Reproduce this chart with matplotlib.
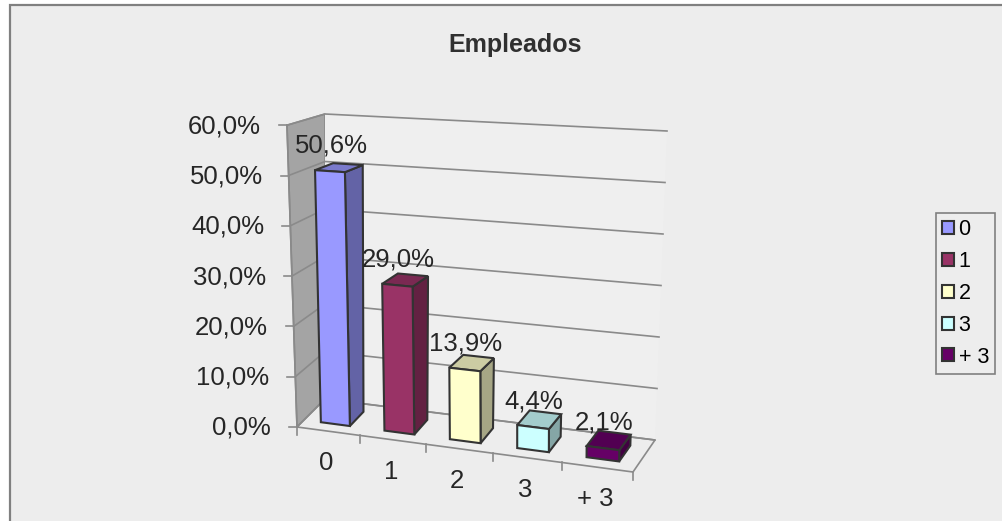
import numpy as np
import matplotlib.pyplot as plt
from matplotlib.patches import Polygon, Rectangle, Patch

# Datos del grafico
categorias = ["0", "1", "2", "3", "+ 3"]
porcentajes = [50.6, 29.0, 13.9, 4.4, 2.1]
etiquetas = ["50,6%", "29,0%", "13,9%", "4,4%", "2,1%"]
ticks_valor = [0, 10, 20, 30, 40, 50, 60]
ticks_texto = ["0,0%", "10,0%", "20,0%", "30,0%", "40,0%", "50,0%", "60,0%"]
colores = ["#9999FF", "#993366", "#FFFFCC", "#CCFFFF", "#660066"]

# Geometria de la caja 3D (pixeles de la figura)
PISO = {"FL": (297, 427), "FR": (633, 472), "BL": (325, 399), "BR": (655, 440)}
ESCALA = {"FL": 5.03, "FR": 5.45, "BL": 4.75, "BR": 5.15}   # px por punto porcentual
INCLINA = {"FL": -0.167, "FR": 0.03, "BL": 0.0, "BR": 0.2}  # desplazamiento x por punto
N = len(categorias)
VMAX = 60


def _u(x):
    # leve efecto de perspectiva a lo largo del eje de categorias
    t = x / N
    c = -0.07
    return t * (1 + c) / (1 + c * t)


def _bilin(q, u, d):
    fl, fr, bl, br = (np.asarray(q[k], dtype=float) for k in ("FL", "FR", "BL", "BR"))
    frente = fl + (fr - fl) * u
    fondo = bl + (br - bl) * u
    return frente + (fondo - frente) * d


def proyectar(x, d, v):
    """(posicion categoria, profundidad 0..1, valor %) -> pixel"""
    u = _u(x)
    px, py = _bilin(PISO, u, d)
    k = _bilin(ESCALA, u, d)
    s = _bilin(INCLINA, u, d)
    return (px + s * v, py - k * v)


fig = plt.figure(figsize=(10.03, 5.21), dpi=100)
fig.patch.set_facecolor("white")
ax = fig.add_axes([0, 0, 1, 1])
ax.set_xlim(0, 1003)
ax.set_ylim(521, 0)
ax.axis("off")

# fondo del area del grafico
ax.add_patch(Rectangle((10, 5), 1100, 600, facecolor="#EDEDED",
                       edgecolor="#808080", linewidth=1.6, zorder=0))

gris = "#8A8A8A"

# pared izquierda
pared_izq = [proyectar(0, 0, 0), proyectar(0, 0, VMAX),
             proyectar(0, 1, VMAX), proyectar(0, 1, 0)]
ax.add_patch(Polygon(pared_izq, closed=True, facecolor="#A4A4A4",
                     edgecolor=gris, linewidth=1.2, zorder=1))
# pared del fondo
pared_fondo = [proyectar(0, 1, 0), proyectar(0, 1, VMAX),
               proyectar(N, 1, VMAX), proyectar(N, 1, 0)]
ax.add_patch(Polygon(pared_fondo, closed=True, facecolor="#EFEFEF",
                     edgecolor="none", zorder=1))
# piso
piso = [proyectar(0, 0, 0), proyectar(N, 0, 0),
        proyectar(N, 1, 0), proyectar(0, 1, 0)]
ax.add_patch(Polygon(piso, closed=True, facecolor="#EDEDED",
                     edgecolor=gris, linewidth=1.2, zorder=1))

# lineas de division (pared izquierda y fondo)
for v in ticks_valor:
    pts = np.array([proyectar(0, 0, v), proyectar(0, 1, v), proyectar(N, 1, v)])
    ax.plot(pts[:, 0], pts[:, 1], color=gris, linewidth=1.2, zorder=2)
ax.plot(*np.array([proyectar(0, 0, 0), proyectar(0, 0, VMAX)]).T,
        color=gris, linewidth=1.2, zorder=2)

# eje de valores: marcas y etiquetas
for v, txt in zip(ticks_valor, ticks_texto):
    ex, ey = proyectar(0, 0, v)
    ax.plot([ex - 8, ex], [ey, ey], color=gris, linewidth=1.2, zorder=2)
    ax.text(ex - 26, ey + 1, txt, ha="right", va="center", fontsize=18.5,
            color="#262626", family="Liberation Sans")

# eje de categorias: marcas y etiquetas
for i in range(N + 1):
    tx, ty = proyectar(i, 0, 0)
    ax.plot([tx, tx], [ty, ty + 8], color=gris, linewidth=1.2, zorder=2)
for i, cat in enumerate(categorias):
    cx, cy = proyectar(i + 0.5, 0, 0)
    ax.text(cx - 2, cy + 32, cat, ha="center", va="center", fontsize=18.5,
            color="#262626", family="Liberation Sans")


def oscurecer(color, f):
    r, g, b = plt.matplotlib.colors.to_rgb(color)
    return (r * f, g * f, b * f)


# barras 3D
x_ini, x_fin = 0.27, 0.73
d_ini, d_fin = 0.25, 0.75
borde = "#333333"
for i, (val, col) in enumerate(zip(porcentajes, colores)):
    x0, x1 = i + x_ini, i + x_fin
    frente = [proyectar(x0, d_ini, 0), proyectar(x1, d_ini, 0),
              proyectar(x1, d_ini, val), proyectar(x0, d_ini, val)]
    lado = [proyectar(x1, d_ini, 0), proyectar(x1, d_fin, 0),
            proyectar(x1, d_fin, val), proyectar(x1, d_ini, val)]
    tapa = [proyectar(x0, d_ini, val), proyectar(x1, d_ini, val),
            proyectar(x1, d_fin, val), proyectar(x0, d_fin, val)]
    z = 5 + i
    ax.add_patch(Polygon(lado, closed=True, facecolor=oscurecer(col, 0.65),
                         edgecolor=borde, linewidth=1.5, zorder=z))
    ax.add_patch(Polygon(tapa, closed=True, facecolor=oscurecer(col, 0.8),
                         edgecolor=borde, linewidth=1.5, zorder=z))
    ax.add_patch(Polygon(frente, closed=True, facecolor=col,
                         edgecolor=borde, linewidth=1.5, zorder=z))

# etiquetas de datos
for i, (val, txt) in enumerate(zip(porcentajes, etiquetas)):
    lx, ly = proyectar(i + 0.5, d_ini, val)
    ax.text(lx + 1, ly - 26, txt, ha="center", va="center", fontsize=18.5,
            color="#262626", family="Liberation Sans", zorder=20)

# titulo
ax.text(515, 45, "Empleados", ha="center", va="center", fontsize=18,
        color="#303030", family="Liberation Sans", fontweight="bold")

# leyenda
handles = [Patch(facecolor=c, edgecolor=borde, linewidth=1.5) for c in colores]
leg = ax.legend(handles, categorias, loc="upper left",
                bbox_to_anchor=(936 / 1003, 1 - 213 / 521),
                handlelength=0.55, handleheight=0.55,
                handletextpad=0.2, labelspacing=0.5, borderpad=0.3,
                borderaxespad=0, fancybox=False, framealpha=1,
                edgecolor="#808080", facecolor="#EDEDED",
                prop={"family": "Liberation Sans", "size": 15.5})
leg.get_frame().set_linewidth(1.2)

fig.savefig("out.png", dpi=100)
